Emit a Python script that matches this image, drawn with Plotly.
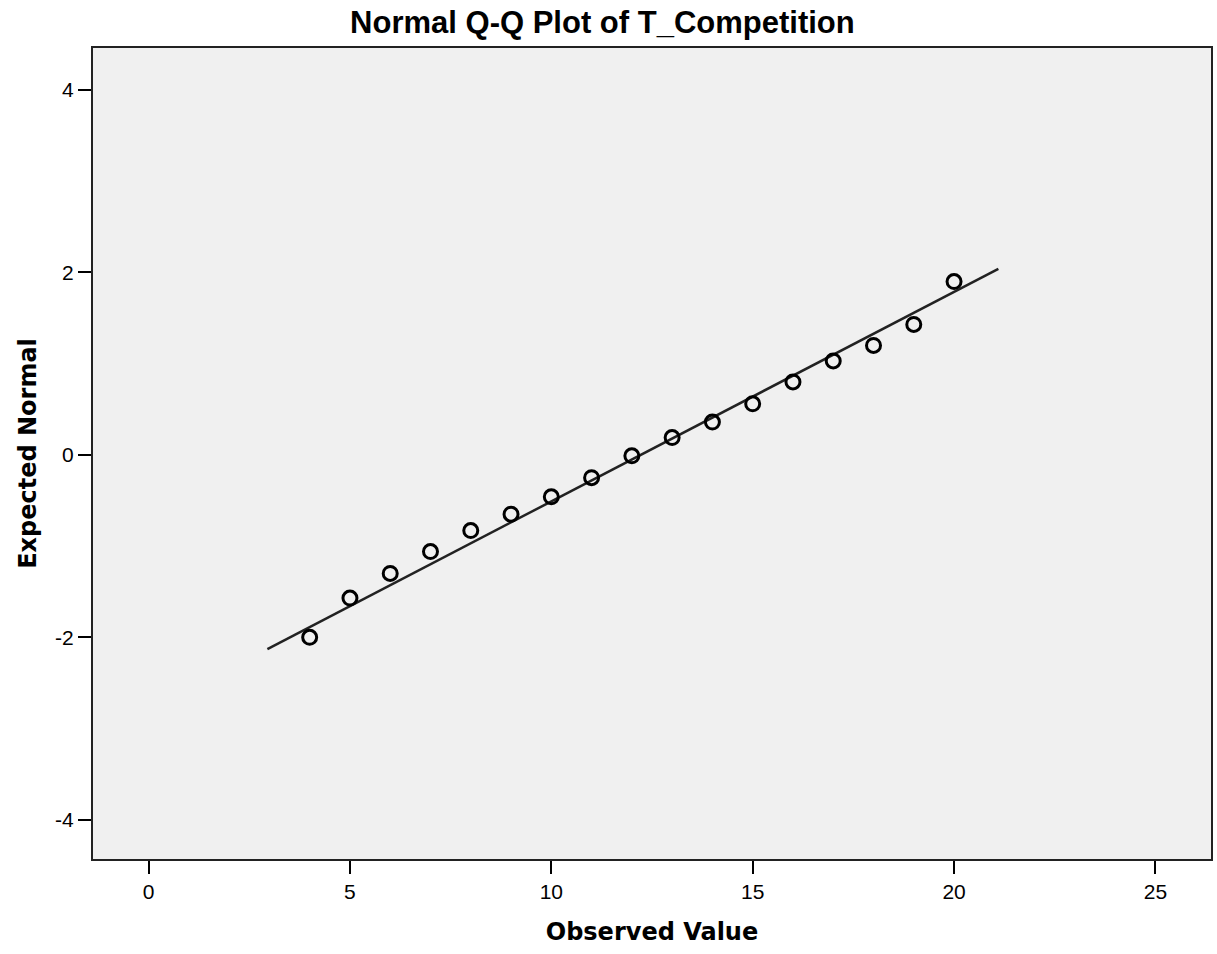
import plotly.graph_objects as go

observed = [4, 5, 6, 7, 8, 9, 10, 11, 12, 13, 14, 15, 16, 17, 18, 19, 20]
expected = [-2.00, -1.57, -1.30, -1.06, -0.83, -0.65, -0.46, -0.25, -0.01,
            0.19, 0.36, 0.56, 0.80, 1.03, 1.20, 1.43, 1.90]
line_x = [2.95, 21.1]
line_y = [-2.13, 2.04]

x_ticks = [0, 5, 10, 15, 20, 25]
y_ticks = [-4, -2, 0, 2, 4]
y_ticklabels = ["-4", "-2", "0", "2", "4"]

font = "Liberation Sans, Arial, sans-serif"
font_t = "DejaVu Sans, Verdana, sans-serif"

fig = go.Figure()
fig.add_trace(go.Scatter(x=line_x, y=line_y, mode="lines",
                         line=dict(color="#222222", width=2.5), hoverinfo="skip"))
fig.add_trace(go.Scatter(x=observed, y=expected, mode="markers",
                         marker=dict(symbol="circle-open", size=14, color="black",
                                     line=dict(width=3, color="black"))))

fig.update_layout(
    width=1217, height=954,
    margin=dict(l=93, r=4, t=48, b=95),
    paper_bgcolor="white", plot_bgcolor="#f0f0f0",
    showlegend=False,
    font=dict(family=font, color="black"),
    title=dict(text="<b>Normal Q-Q Plot of T_Competition</b>", x=0.495, xref="container",
               xanchor="center", y=0.977, yanchor="middle",
               font=dict(size=31, family=font, color="black")),
)
fig.update_xaxes(range=[-1.38, 26.38], tickvals=x_ticks, ticks="outside", ticklen=13,
                 tickwidth=2, tickcolor="black", showgrid=False, zeroline=False,
                 showline=True, linecolor="#222", linewidth=2, mirror=True,
                 tickfont=dict(size=21, family=font, color="black"),
                 title=dict(text="<b>Observed Value</b>", standoff=21,
                            font=dict(size=24, family=font_t, color="black")))
fig.update_yaxes(range=[-4.43, 4.46], tickvals=y_ticks, ticktext=y_ticklabels,
                 ticks="outside", ticklen=13,
                 tickwidth=2, tickcolor="black", showgrid=False, zeroline=False,
                 showline=True, linecolor="#222", linewidth=2, mirror=True,
                 tickfont=dict(size=21, family=font, color="black"),
                 title=dict(text="<b>Expected Normal</b>", standoff=12,
                            font=dict(size=24, family=font_t, color="black")))

fig.write_html("out.html")
